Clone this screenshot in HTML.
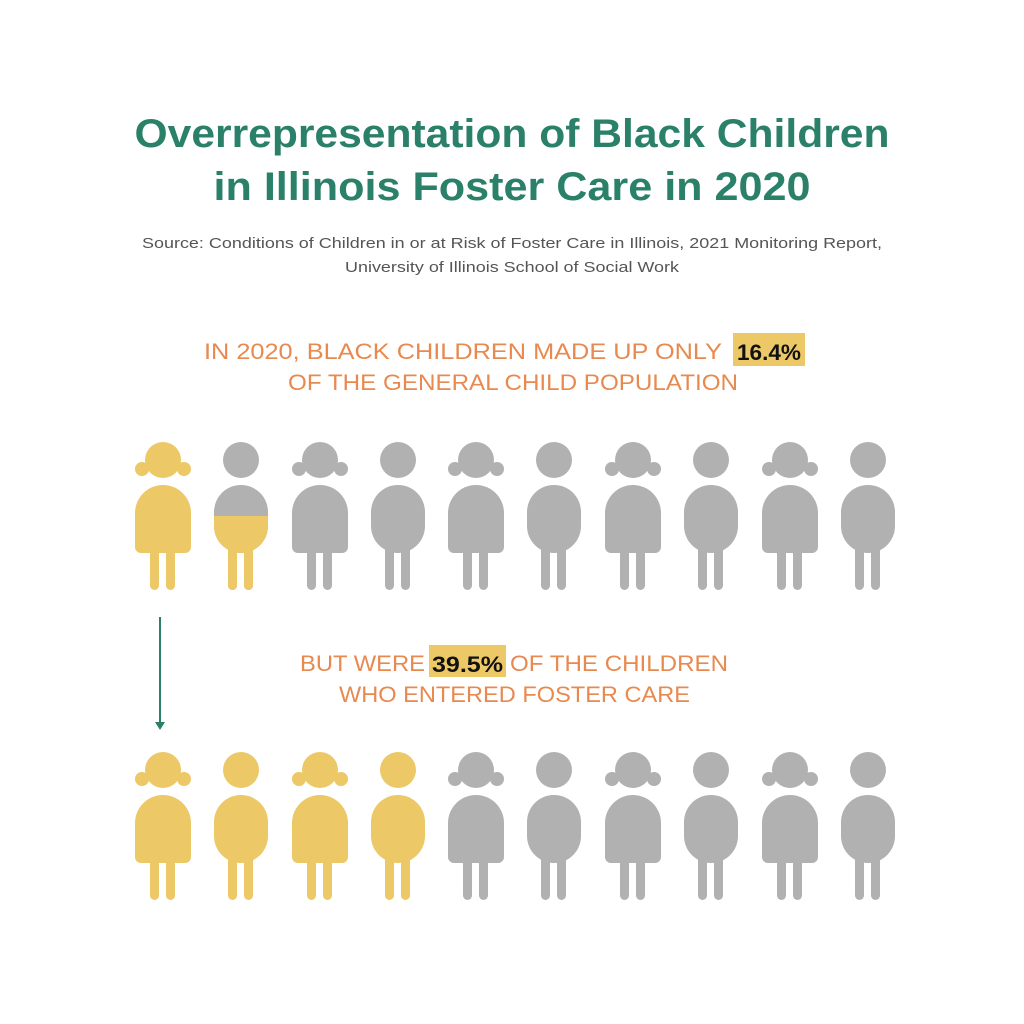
<!DOCTYPE html>
<html><head><style>html,body{margin:0;padding:0;background:#fff}svg{display:block}</style></head>
<body>
<svg width="1024" height="1024" viewBox="0 0 1024 1024" xmlns="http://www.w3.org/2000/svg" font-family="Liberation Sans, sans-serif">
<defs>
<g id="girl">
<circle cx="0" cy="18" r="18"/>
<circle cx="-21" cy="27" r="7"/><circle cx="21" cy="27" r="7"/>
<path d="M-28,71 a28,28 0 0 1 56,0 v34 a6,6 0 0 1 -6,6 h-44 a6,6 0 0 1 -6,-6 z"/>
<rect x="-13" y="100" width="9" height="48" rx="4.5"/>
<rect x="3" y="100" width="9" height="48" rx="4.5"/>
</g>
<g id="boy">
<circle cx="0" cy="18" r="18"/>
<path d="M-27,70 a27,27 0 0 1 54,0 v14 a27,27 0 0 1 -27,27 a27,27 0 0 1 -27,-27 z"/>
<rect x="-13" y="100" width="9" height="48" rx="4.5"/>
<rect x="3" y="100" width="9" height="48" rx="4.5"/>
</g>
<clipPath id="half"><rect x="-40" y="74" width="80" height="120"/></clipPath>
</defs>
<g fill="#2a8068" font-weight="bold" font-size="40" text-anchor="middle">
<text x="512" y="147" textLength="755" lengthAdjust="spacingAndGlyphs">Overrepresentation of Black Children</text>
<text x="512" y="200" textLength="597" lengthAdjust="spacingAndGlyphs">in Illinois Foster Care in 2020</text>
</g>
<g fill="#555" font-size="15" text-anchor="middle">
<text x="512" y="248" textLength="740" lengthAdjust="spacingAndGlyphs">Source: Conditions of Children in or at Risk of Foster Care in Illinois, 2021 Monitoring Report,</text>
<text x="512" y="272" textLength="334" lengthAdjust="spacingAndGlyphs">University of Illinois School of Social Work</text>
</g>
<rect x="733" y="333" width="72" height="33" fill="#ecc866"/>
<rect x="429" y="645" width="77" height="32" fill="#ecc866"/>
<g fill="#e8894f" font-size="22">
<text x="204" y="359" textLength="518" lengthAdjust="spacingAndGlyphs">IN 2020, BLACK CHILDREN MADE UP ONLY</text>
<text x="288" y="390" textLength="450" lengthAdjust="spacingAndGlyphs">OF THE GENERAL CHILD POPULATION</text>
<text x="300" y="671" textLength="125" lengthAdjust="spacingAndGlyphs">BUT WERE</text>
<text x="510" y="671" textLength="218" lengthAdjust="spacingAndGlyphs">OF THE CHILDREN</text>
<text x="339" y="702" textLength="351" lengthAdjust="spacingAndGlyphs">WHO ENTERED FOSTER CARE</text>
</g>
<g fill="#111" font-size="22" font-weight="bold">
<text x="737" y="360" textLength="64" lengthAdjust="spacingAndGlyphs">16.4%</text>
<text x="432" y="672" textLength="71" lengthAdjust="spacingAndGlyphs">39.5%</text>
</g>
<line x1="160" y1="617" x2="160" y2="724" stroke="#2a8068" stroke-width="2"/>
<path d="M155,722 h10 l-5,8 z" fill="#2a8068"/>
<g transform="translate(0,442)">
<use href="#girl" x="163" fill="#ecc866"/>
<use href="#boy" x="241" fill="#b0b1b0"/>
<g transform="translate(241,0)" fill="#ecc866" clip-path="url(#half)"><use href="#boy"/></g>
<use href="#girl" x="320" fill="#b0b1b0"/>
<use href="#boy" x="398" fill="#b0b1b0"/>
<use href="#girl" x="476" fill="#b0b1b0"/>
<use href="#boy" x="554" fill="#b0b1b0"/>
<use href="#girl" x="633" fill="#b0b1b0"/>
<use href="#boy" x="711" fill="#b0b1b0"/>
<use href="#girl" x="790" fill="#b0b1b0"/>
<use href="#boy" x="868" fill="#b0b1b0"/>
</g>
<g transform="translate(0,752)">
<use href="#girl" x="163" fill="#ecc866"/>
<use href="#boy" x="241" fill="#ecc866"/>
<use href="#girl" x="320" fill="#ecc866"/>
<use href="#boy" x="398" fill="#ecc866"/>
<use href="#girl" x="476" fill="#b0b1b0"/>
<use href="#boy" x="554" fill="#b0b1b0"/>
<use href="#girl" x="633" fill="#b0b1b0"/>
<use href="#boy" x="711" fill="#b0b1b0"/>
<use href="#girl" x="790" fill="#b0b1b0"/>
<use href="#boy" x="868" fill="#b0b1b0"/>
</g>
</svg>
</body></html>
